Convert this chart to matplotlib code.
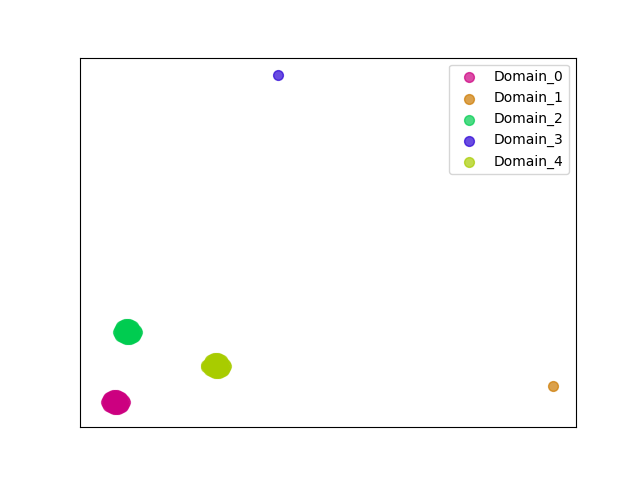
import matplotlib
matplotlib.use('Agg')
import matplotlib.pyplot as plt

# embedding coordinates per domain
domains = ['Domain_0', 'Domain_1', 'Domain_2', 'Domain_3', 'Domain_4']
colors = ['#cc0080', '#cc7a00', '#00cc50', '#2a00d5', '#a8cc00']

d0_x = [106, 108, 111, 115, 119, 122, 125, 123, 120, 116, 112, 108,
        111, 115, 120, 111, 115, 120, 113, 118,
        107, 109, 113, 117, 121, 124, 124, 122, 118, 114, 110, 107]
d0_y = [78, 82, 84, 85, 84, 82, 78, 74, 72, 71, 72, 74,
        81, 82, 81, 75, 75, 75, 78, 78,
        80, 83, 85, 85, 83, 80, 76, 73, 71, 71, 73, 76]
d1_x = [553]
d1_y = [94]
d2_x = [118, 120, 123, 127, 131, 134, 137, 135, 132, 128, 124, 120,
        123, 127, 132, 123, 127, 132, 125, 130,
        119, 121, 125, 129, 133, 136, 136, 134, 130, 126, 122, 119]
d2_y = [148, 152, 155, 156, 155, 152, 148, 144, 142, 141, 142, 144,
        151, 152, 151, 145, 145, 145, 148, 148,
        150, 154, 156, 156, 154, 150, 146, 143, 141, 141, 143, 146]
d3_x = [278]
d3_y = [405]
d4_x = [207, 209, 212, 216, 220, 223, 226, 224, 221, 217, 213, 209,
        212, 216, 221, 212, 216, 221, 214, 219, 206, 206,
        208, 210, 214, 218, 222, 225, 225, 223, 219, 215, 211, 208]
d4_y = [114, 118, 121, 122, 121, 118, 114, 110, 108, 107, 108, 110,
        117, 118, 117, 111, 111, 111, 114, 114, 115, 113,
        116, 120, 122, 122, 120, 116, 112, 109, 107, 107, 109, 112]

xs = [d0_x, d1_x, d2_x, d3_x, d4_x]
ys = [d0_y, d1_y, d2_y, d3_y, d4_y]

fig, ax = plt.subplots(figsize=(6.4, 4.8), dpi=100)
for name, c, x, y in zip(domains, colors, xs, ys):
    ax.scatter(x, y, color=c, alpha=0.7, s=50, label=name)

ax.set_xlim(80, 576)
ax.set_ylim(53, 422)
ax.set_xticks([])
ax.set_yticks([])
ax.legend(loc='upper right')

plt.savefig('out.png')
plt.close()
